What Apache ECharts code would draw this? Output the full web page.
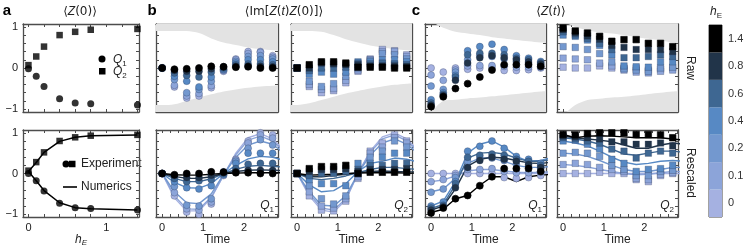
<!DOCTYPE html>
<html>
<head>
<meta charset="utf-8">
<script src="https://cdn.jsdelivr.net/npm/echarts@6/dist/echarts.min.js"></script>
<style>
  html, body { margin: 0; padding: 0; background: #fff; }
  #chart { width: 744px; height: 245px; }
</style>
</head>
<body>
<div id="chart"></div>
<script>
// h_E levels and their colours (light -> black)
const hE = ['0', '0.1', '0.2', '0.4', '0.6', '0.8', '1.4'];
const hEValues = [0, 0.1, 0.2, 0.4, 0.6, 0.8, 1.4];
const hEColors = ['#a5b1e1', '#8ca4d9', '#7398cf', '#5789c4', '#3e6792', '#213449', '#000000'];

// panel a: <Z(0)> vs h_E
const aQ1 = [-0.02, -0.2, -0.45, -0.75, -0.85, -0.87, -0.9];
const aQ2 = [0.07, 0.28, 0.52, 0.8, 0.88, 0.93, 0.95];
const aQ1Exp = [0.0, -0.18, -0.43, -0.73, -0.84, -0.86, -0.9];
const aQ2Exp = [0.07, 0.28, 0.52, 0.8, 0.89, 0.93, 0.95];
const aQ1Num = [0.05, -0.18, -0.42, -0.72, -0.84, -0.87, -0.9];
const aQ2Num = [0.05, 0.27, 0.52, 0.79, 0.89, 0.93, 0.95];

// time grids
const time = [0, 0.3, 0.6, 0.9, 1.2, 1.5, 1.8, 2.1, 2.4, 2.7];
const timeNum = [0, 0.3, 0.6, 0.9, 1.2, 1.5, 1.8, 2.1, 2.4, 2.7, 3.0];
const envTime = [-0.2, 0, 0.3, 0.6, 0.9, 1.2, 1.5, 1.8, 2.1, 2.4, 2.7, 3.0];

// rows follow hE order: 0, 0.1, 0.2, 0.4, 0.6, 0.8, 1.4
const bQ1Raw = [
  [0, -0.46, -0.73, -0.68, -0.48, -0.08, 0.22, 0.4, 0.4, 0.3],
  [0, -0.42, -0.68, -0.62, -0.43, -0.06, 0.2, 0.35, 0.38, 0.26],
  [0, -0.28, -0.6, -0.52, -0.32, -0.04, 0.16, 0.28, 0.3, 0.22],
  [0, -0.2, -0.32, -0.46, -0.22, -0.03, 0.12, 0.2, 0.2, 0.15],
  [0, -0.12, -0.18, -0.22, -0.1, 0, 0.08, 0.1, 0.1, 0.08],
  [0, -0.06, -0.08, -0.08, -0.02, 0.03, 0.04, 0.05, 0.04, 0.03],
  [0, -0.03, -0.02, 0, 0.04, 0.03, 0.02, 0.03, 0, 0]
];
const bQ1Resc = [
  [0, -0.55, -0.95, -1.0, -0.75, -0.05, 0.35, 0.8, 1.0, 0.95],
  [0, -0.47, -0.87, -0.9, -0.7, -0.02, 0.33, 0.75, 0.95, 0.87],
  [0, -0.32, -0.78, -0.8, -0.62, 0.02, 0.3, 0.62, 0.83, 0.7],
  [0, -0.2, -0.35, -0.38, -0.3, -0.03, 0.25, 0.5, 0.5, 0.5],
  [0, -0.12, -0.2, -0.18, -0.15, 0, 0.12, 0.23, 0.25, 0.25],
  [0, -0.05, -0.1, -0.1, -0.04, 0.04, 0.05, 0.08, 0.08, 0.08],
  [0, -0.03, 0, 0, 0.04, 0.03, 0.02, 0.02, 0, 0]
];
const bQ1Num = [
  [0, -0.6, -0.92, -0.92, -0.6, -0.05, 0.5, 0.88, 0.98, 0.85, 0.55],
  [0, -0.55, -0.87, -0.88, -0.58, -0.04, 0.46, 0.82, 0.92, 0.8, 0.52],
  [0, -0.45, -0.72, -0.74, -0.5, -0.02, 0.4, 0.7, 0.8, 0.72, 0.48],
  [0, -0.22, -0.35, -0.36, -0.25, 0, 0.2, 0.36, 0.42, 0.4, 0.32],
  [0, -0.12, -0.2, -0.2, -0.13, 0, 0.1, 0.18, 0.2, 0.18, 0.15],
  [0, -0.07, -0.12, -0.12, -0.08, 0, 0.05, 0.08, 0.09, 0.08, 0.07],
  [0, -0.03, -0.04, -0.04, -0.02, 0, 0.01, 0.02, 0.02, 0.02, 0.02]
];
const bQ2Raw = [
  [0, -0.45, -0.6, -0.55, -0.36, -0.08, 0.22, 0.45, 0.42, 0.32],
  [0, -0.4, -0.52, -0.5, -0.3, -0.05, 0.2, 0.4, 0.4, 0.28],
  [0, -0.32, -0.45, -0.38, -0.2, 0, 0.18, 0.35, 0.32, 0.22],
  [0, -0.15, -0.1, -0.15, -0.1, 0.15, 0.15, 0.2, 0.2, 0.15],
  [0, -0.06, 0, 0, 0.02, 0.12, 0.1, 0.12, 0.1, 0.08],
  [0, 0, 0.12, 0.1, 0.08, 0.08, 0.05, 0.05, 0.05, 0.04],
  [0, 0.08, 0.15, 0.15, 0.12, 0.02, 0.02, 0.02, 0, 0]
];
const bQ2Resc = [
  [0, -0.55, -0.9, -0.92, -0.68, -0.12, 0.55, 0.75, 0.95, 0.8],
  [0, -0.45, -0.8, -0.85, -0.62, -0.08, 0.5, 0.65, 0.88, 0.75],
  [0, -0.3, -0.62, -0.75, -0.55, 0, 0.4, 0.55, 0.8, 0.65],
  [0, -0.15, -0.25, -0.25, -0.3, 0.25, 0.25, 0.4, 0.5, 0.5],
  [0, -0.05, 0, 0, 0.05, 0.1, 0.2, 0.2, 0.25, 0.25],
  [0, 0.05, 0.1, 0.1, 0.12, 0.05, 0.1, 0.1, 0.1, 0.12],
  [0, 0.12, 0.17, 0.17, 0.2, 0, 0.03, 0.03, 0.03, 0.03]
];
const bQ2Num = [
  [0, -0.55, -0.9, -0.95, -0.65, 0, 0.55, 0.9, 1.0, 0.85, 0.55],
  [0, -0.5, -0.85, -0.9, -0.62, 0, 0.52, 0.85, 0.95, 0.8, 0.52],
  [0, -0.45, -0.78, -0.8, -0.55, 0, 0.45, 0.75, 0.85, 0.72, 0.48],
  [0, -0.28, -0.45, -0.42, -0.25, 0.05, 0.25, 0.3, 0.38, 0.35, 0.28],
  [0, -0.12, -0.15, -0.12, -0.06, 0.02, 0.1, 0.15, 0.15, 0.12, 0.1],
  [0, -0.08, -0.08, -0.05, -0.02, 0.02, 0.05, 0.06, 0.05, 0.04, 0.04],
  [0, -0.04, -0.03, -0.02, 0, 0.01, 0.02, 0.02, 0.02, 0.01, 0.01]
];
const cQ1Raw = [
  [0, -0.1, 0, -0.03, 0, 0, -0.06, -0.06, -0.04, 0],
  [-0.17, -0.3, -0.05, 0.05, 0.06, 0.06, 0.04, 0.02, 0.02, 0.02],
  [-0.44, -0.52, -0.1, 0.2, 0.3, 0.28, 0.22, 0.15, 0.12, 0.08],
  [-0.77, -0.6, -0.18, 0.42, 0.52, 0.58, 0.45, 0.3, 0.24, 0.16],
  [-0.85, -0.64, -0.22, 0.32, 0.36, 0.36, 0.32, 0.24, 0.2, 0.13],
  [-0.9, -0.67, -0.3, 0.12, 0.25, 0.3, 0.25, 0.2, 0.15, 0.1],
  [-0.94, -0.7, -0.5, -0.38, -0.22, -0.05, 0.08, 0.08, 0.08, 0.04]
];
const cQ1Resc = [
  [0, 0, 0, 0, 0, 0, -0.1, -0.12, -0.1, -0.05],
  [-0.2, -0.15, -0.05, 0.1, 0.1, 0.12, 0.05, 0.02, 0.02, 0.03],
  [-0.46, -0.38, -0.1, 0.3, 0.38, 0.38, 0.32, 0.22, 0.18, 0.12],
  [-0.8, -0.7, -0.2, 0.55, 0.67, 0.8, 0.62, 0.42, 0.35, 0.25],
  [-0.85, -0.78, -0.25, 0.4, 0.45, 0.48, 0.45, 0.35, 0.3, 0.2],
  [-0.9, -0.82, -0.35, 0.15, 0.32, 0.4, 0.35, 0.3, 0.22, 0.15],
  [-0.97, -0.85, -0.62, -0.54, -0.3, -0.08, 0.12, 0.12, 0.12, 0.05]
];
const cQ1Num = [
  [0, 0, 0, 0, 0, 0, 0, 0, 0, 0, 0],
  [-0.2, -0.16, -0.06, 0.06, 0.1, 0.1, 0.06, 0.03, 0.02, 0.03, 0.04],
  [-0.45, -0.38, -0.12, 0.25, 0.38, 0.38, 0.3, 0.2, 0.15, 0.15, 0.18],
  [-0.8, -0.68, -0.2, 0.5, 0.72, 0.8, 0.65, 0.42, 0.3, 0.32, 0.4],
  [-0.86, -0.76, -0.28, 0.38, 0.5, 0.52, 0.48, 0.38, 0.3, 0.3, 0.35],
  [-0.9, -0.8, -0.38, 0.18, 0.35, 0.4, 0.38, 0.32, 0.26, 0.25, 0.28],
  [-0.96, -0.88, -0.62, -0.54, -0.29, -0.08, -0.08, -0.2, -0.08, -0.04, -0.02]
];
const cQ2Raw = [
  [0.02, 0, 0, 0.05, 0, 0, 0, -0.05, -0.03, 0],
  [0.24, 0.22, 0.2, 0.12, 0.05, -0.05, -0.1, -0.12, -0.08, -0.05],
  [0.52, 0.5, 0.45, 0.35, 0.15, -0.02, -0.05, -0.08, 0, 0.02],
  [0.8, 0.77, 0.68, 0.55, 0.32, 0.05, 0.03, 0.02, 0.15, 0.15],
  [0.88, 0.8, 0.72, 0.6, 0.45, 0.25, 0.25, 0.28, 0.32, 0.28],
  [0.93, 0.85, 0.78, 0.7, 0.55, 0.5, 0.45, 0.45, 0.45, 0.4],
  [0.97, 0.9, 0.85, 0.77, 0.65, 0.69, 0.69, 0.6, 0.6, 0.52]
];
const cQ2Resc = [
  [0, 0, 0, 0.03, 0, 0, -0.15, -0.2, -0.05, 0],
  [0.22, 0.25, 0.22, 0.15, 0.1, 0.05, -0.12, -0.15, -0.02, 0.02],
  [0.5, 0.52, 0.5, 0.42, 0.2, 0.1, -0.05, -0.05, 0.05, 0.08],
  [0.8, 0.82, 0.72, 0.6, 0.35, 0.25, 0.05, 0.1, 0.12, 0.2],
  [0.88, 0.85, 0.8, 0.75, 0.6, 0.55, 0.38, 0.5, 0.55, 0.5],
  [0.92, 0.9, 0.88, 0.85, 0.78, 0.78, 0.72, 0.72, 0.75, 0.68],
  [0.96, 0.95, 0.98, 1.0, 1.0, 1.0, 0.96, 0.96, 0.95, 0.88]
];
const cQ2Num = [
  [0, 0, 0, 0, 0, 0, 0, 0, 0, 0, 0],
  [0.22, 0.2, 0.16, 0.1, 0.05, 0, -0.03, -0.02, 0.02, 0.05, 0.05],
  [0.5, 0.48, 0.42, 0.32, 0.2, 0.1, 0.05, 0.05, 0.1, 0.15, 0.15],
  [0.8, 0.75, 0.68, 0.55, 0.4, 0.28, 0.22, 0.25, 0.3, 0.32, 0.3],
  [0.88, 0.85, 0.8, 0.72, 0.6, 0.48, 0.45, 0.5, 0.55, 0.55, 0.52],
  [0.92, 0.88, 0.85, 0.82, 0.78, 0.7, 0.62, 0.62, 0.7, 0.75, 0.72],
  [0.96, 0.88, 0.92, 0.93, 0.92, 0.9, 0.88, 0.88, 0.88, 0.85, 0.82]
];

// grey decay envelopes of the raw panels (on envTime)
const bQ1EnvHi = [0.9, 0.9, 0.9, 0.9, 0.85, 0.72, 0.62, 0.56, 0.5, 0.46, 0.43, 0.42];
const bQ1EnvLo = [-0.9, -0.9, -0.88, -0.8, -0.72, -0.64, -0.57, -0.52, -0.48, -0.45, -0.43, -0.42];
const bQ2EnvHi = [0.9, 0.9, 0.9, 0.88, 0.8, 0.7, 0.62, 0.55, 0.5, 0.46, 0.43, 0.42];
const bQ2EnvLo = [-0.9, -0.9, -0.86, -0.78, -0.7, -0.62, -0.56, -0.5, -0.45, -0.41, -0.38, -0.37];
const cQ1EnvHi = [1.1, 1.1, 0.98, 0.88, 0.84, 0.8, 0.75, 0.72, 0.68, 0.65, 0.62, 0.6];
const cQ1EnvLo = [-1.1, -1.05, -0.8, -0.77, -0.74, -0.72, -0.69, -0.66, -0.63, -0.6, -0.57, -0.56];
const cQ2EnvHi = [1.1, 1.1, 1.0, 0.92, 0.87, 0.84, 0.8, 0.75, 0.71, 0.67, 0.62, 0.6];
const cQ2EnvLo = [-1.1, -1.1, -0.9, -0.78, -0.75, -0.72, -0.7, -0.67, -0.63, -0.6, -0.57, -0.56];

// ---------------------------------------------------------------
const FONT = 'Liberation Sans, Arial, Helvetica, sans-serif';
const FRAME = '#4d4d4d';
const yTicks = [-1, -0.8, -0.6, -0.4, -0.2, 0, 0.2, 0.4, 0.6, 0.8, 1];
const tTicks = [0, 0.2, 0.4, 0.6, 0.8, 1, 1.2, 1.4, 1.6, 1.8, 2, 2.2, 2.4, 2.6, 2.8];
const hTicks = [0, 0.2, 0.4, 0.6, 0.8, 1, 1.2, 1.4];
const Y_RANGE = [-1.07, 1.07];
const T_RANGE = [-0.15, 2.83];
const H_RANGE = [-0.07, 1.42];

const layout = {
  aTop:   { left: 23,  top: 24,  width: 116, height: 88 },
  aBot:   { left: 23,  top: 130, width: 116, height: 87 },
  bQ1Top: { left: 156, top: 24,  width: 122, height: 88 },
  bQ2Top: { left: 291, top: 24,  width: 121, height: 88 },
  cQ1Top: { left: 425, top: 24,  width: 121, height: 88 },
  cQ2Top: { left: 557, top: 24,  width: 121, height: 88 },
  bQ1Bot: { left: 156, top: 130, width: 122, height: 87 },
  bQ2Bot: { left: 291, top: 130, width: 121, height: 87 },
  cQ1Bot: { left: 425, top: 130, width: 121, height: 87 },
  cQ2Bot: { left: 557, top: 130, width: 121, height: 87 },
  cbar:   { left: 709, top: 25,  width: 13,  height: 192 }
};

const grids = [], xAxes = [], yAxes = [], series = [];
const minus = v => (v < 0 ? '\u2212' + Math.abs(v) : String(v));

function axisPair(list, gi, base, range, ticks, labels, name) {
  const line = { show: true, onZero: false, lineStyle: { color: FRAME, width: 1.3 } };
  const tick = { show: true, inside: true, length: 3, customValues: ticks, lineStyle: { color: FRAME, width: 1 } };
  const main = {
    gridIndex: gi, type: 'value', min: range[0], max: range[1], position: base,
    axisLine: line, axisTick: tick, splitLine: { show: false },
    axisLabel: labels
      ? { show: true, customValues: labels, formatter: minus, fontSize: 11, color: '#222', fontFamily: FONT, margin: 5 }
      : { show: false }
  };
  if (name) Object.assign(main, name);
  const mirror = {
    gridIndex: gi, type: 'value', min: range[0], max: range[1],
    position: base === 'bottom' ? 'top' : 'right',
    axisLine: line, axisTick: tick, splitLine: { show: false }, axisLabel: { show: false }
  };
  list.push(main, mirror);
}

function panel(key, xRange, xTicks, xLabels, yLabels, xName) {
  const gi = grids.length;
  grids.push(Object.assign({ containLabel: false, outerBoundsMode: 'none' }, layout[key]));
  axisPair(xAxes, gi, 'bottom', xRange, xTicks, xLabels, xName);
  axisPair(yAxes, gi, 'left', Y_RANGE, yTicks, yLabels ? [-1, 0, 1] : null, null);
  return 2 * gi;
}

const timeName = {
  name: 'Time', nameLocation: 'middle', nameGap: 17,
  nameTextStyle: { fontSize: 12, color: '#222', fontFamily: FONT }
};
const hName = {
  name: '{i|h}{s|E}', nameLocation: 'middle', nameGap: 15,
  nameTextStyle: {
    rich: {
      i: { fontSize: 12, fontStyle: 'italic', color: '#222', fontFamily: FONT, lineHeight: 14 },
      s: { fontSize: 8, fontStyle: 'italic', color: '#222', fontFamily: FONT, lineHeight: 8, verticalAlign: 'bottom' }
    }
  }
};

function envelope(ax, hi, lo) {
  [[hi, 'end'], [lo, 'start']].forEach(([arr, origin]) => series.push({
    type: 'line', xAxisIndex: ax, yAxisIndex: ax, silent: true, z: 1,
    data: envTime.map((t, j) => [t, arr[j]]),
    smooth: 0.3, symbol: 'none', lineStyle: { width: 0 },
    areaStyle: { color: '#e3e3e3', opacity: 1, origin }
  }));
}

function dots(ax, rows, symbol) {
  rows.forEach((row, k) => series.push({
    type: 'scatter', xAxisIndex: ax, yAxisIndex: ax, z: 3, silent: true,
    symbol, symbolSize: symbol === 'circle' ? 7 : 6.5,
    data: time.map((t, j) => [t, row[j]]),
    itemStyle: { color: hEColors[k], borderColor: k === 6 ? '#000' : 'rgba(35,45,75,0.45)', borderWidth: 0.6, opacity: 1 }
  }));
}

function curves(ax, rows) {
  rows.forEach((row, k) => series.push({
    type: 'line', xAxisIndex: ax, yAxisIndex: ax, z: 2, silent: true,
    data: timeNum.map((t, j) => [t, row[j]]),
    symbol: 'none', lineStyle: { color: hEColors[k], width: 1.4 }
  }));
}

// panel a
const aTop = panel('aTop', H_RANGE, hTicks, null, true);
const aBot = panel('aBot', H_RANGE, hTicks, [0, 1], true, hName);
[[aQ1, 'circle', 7], [aQ2, 'rect', 6.5]].forEach(([arr, sym, size]) => series.push({
  type: 'scatter', xAxisIndex: aTop, yAxisIndex: aTop, symbol: sym, symbolSize: size, z: 3, silent: true,
  data: hEValues.map((h, j) => [h, arr[j]]), itemStyle: { color: '#000' }
}));
[aQ1Num, aQ2Num].forEach(arr => series.push({
  type: 'line', xAxisIndex: aBot, yAxisIndex: aBot, symbol: 'none', z: 2, silent: true,
  data: hEValues.map((h, j) => [h, arr[j]]), lineStyle: { color: '#000', width: 1.5 }
}));
[[aQ1Exp, 'circle', 7], [aQ2Exp, 'rect', 6.5]].forEach(([arr, sym, size]) => series.push({
  type: 'scatter', xAxisIndex: aBot, yAxisIndex: aBot, symbol: sym, symbolSize: size, z: 3, silent: true,
  data: hEValues.map((h, j) => [h, arr[j]]), itemStyle: { color: '#000' }
}));

// panels b, c raw (top row)
const rawPanels = [
  ['bQ1Top', bQ1Raw, 'circle', bQ1EnvHi, bQ1EnvLo],
  ['bQ2Top', bQ2Raw, 'rect', bQ2EnvHi, bQ2EnvLo],
  ['cQ1Top', cQ1Raw, 'circle', cQ1EnvHi, cQ1EnvLo],
  ['cQ2Top', cQ2Raw, 'rect', cQ2EnvHi, cQ2EnvLo]
];
rawPanels.forEach(([key, rows, sym, hi, lo]) => {
  const ax = panel(key, T_RANGE, tTicks, null, false);
  envelope(ax, hi, lo);
  dots(ax, rows, sym);
});

// panels b, c rescaled (bottom row)
const rescPanels = [
  ['bQ1Bot', bQ1Resc, bQ1Num, 'circle'],
  ['bQ2Bot', bQ2Resc, bQ2Num, 'rect'],
  ['cQ1Bot', cQ1Resc, cQ1Num, 'circle'],
  ['cQ2Bot', cQ2Resc, cQ2Num, 'rect']
];
rescPanels.forEach(([key, rows, num, sym]) => {
  const ax = panel(key, T_RANGE, tTicks, [0, 1, 2], false, timeName);
  curves(ax, num);
  dots(ax, rows, sym);
});

// colour bar
const cbi = grids.length;
grids.push(Object.assign({ containLabel: false, outerBoundsMode: 'none', show: true, borderColor: '#444', borderWidth: 1 }, layout.cbar));
xAxes.push({ gridIndex: cbi, type: 'value', min: 0, max: 1, show: false });
yAxes.push({
  gridIndex: cbi, type: 'category', data: hE, position: 'right',
  axisLine: { show: false }, axisTick: { show: false }, splitLine: { show: false },
  axisLabel: { fontSize: 11, color: '#333', fontFamily: FONT, margin: 6 }
});
series.push({
  type: 'bar', xAxisIndex: xAxes.length - 1, yAxisIndex: yAxes.length - 1, silent: true,
  barWidth: '100%', barCategoryGap: '0%',
  data: hE.map((h, k) => ({ value: 1, itemStyle: { color: hEColors[k] } }))
});

// texts
const sub = { fontSize: 8, fontFamily: FONT, color: '#222', lineHeight: 8, verticalAlign: 'bottom' };
const it = { fontSize: 12, fontStyle: 'italic', fontFamily: FONT, color: '#222', lineHeight: 16 };
const rm = { fontSize: 12, fontFamily: 'DejaVu Sans, ' + FONT, color: '#222', lineHeight: 16 };
function txt(x, y, text, extra) {
  return Object.assign({ type: 'text', x, y, silent: true, style: Object.assign({
    text, rich: { i: it, s: sub, r: rm }, textAlign: 'center', textVerticalAlign: 'middle', fill: '#222',
    fontFamily: FONT, fontSize: 12
  }, extra || {}) });
}
const graphic = [
  txt(7, 11, 'a', { fontSize: 15, fontWeight: 'bold', fill: '#000' }),
  txt(152, 11, 'b', { fontSize: 15, fontWeight: 'bold', fill: '#000' }),
  txt(416, 11, 'c', { fontSize: 15, fontWeight: 'bold', fill: '#000' }),
  txt(80, 12, '{r|\u27E8}{i|Z}{r|(0)\u27E9}'),
  txt(284, 12, '{r|\u27E8Im[}{i|Z}{r|(}{i|t}{r|)}{i|Z}{r|(0)]\u27E9}'),
  txt(551, 12, '{r|\u27E8}{i|Z}{r|(}{i|t}{r|)\u27E9}'),
  txt(716, 12, '{i|h}{s|E}'),
  // panel a legends
  { type: 'circle', shape: { cx: 102, cy: 59, r: 3.5 }, style: { fill: '#000' }, silent: true },
  { type: 'rect', shape: { x: 99, y: 68, width: 6.5, height: 6.5 }, style: { fill: '#000' }, silent: true },
  txt(113, 60, '{i|Q}{s|1}', { textAlign: 'left' }),
  txt(113, 72, '{i|Q}{s|2}', { textAlign: 'left' }),
  { type: 'circle', shape: { cx: 66, cy: 164, r: 3.5 }, style: { fill: '#000' }, silent: true },
  { type: 'rect', shape: { x: 69, y: 160.75, width: 6.5, height: 6.5 }, style: { fill: '#000' }, silent: true },
  txt(81, 164, 'Experiment', { textAlign: 'left' }),
  { type: 'line', shape: { x1: 63, y1: 187, x2: 77, y2: 187 }, style: { stroke: '#000', lineWidth: 1.6 }, silent: true },
  txt(81, 187, 'Numerics', { textAlign: 'left' }),
  // row labels
  Object.assign(txt(690, 68, 'Raw'), { rotation: -Math.PI / 2 }),
  Object.assign(txt(690, 173, 'Rescaled'), { rotation: -Math.PI / 2 })
];
['bQ1Top', 'bQ2Top', 'cQ1Top', 'cQ2Top', 'bQ1Bot', 'bQ2Bot', 'cQ1Bot', 'cQ2Bot'].forEach((key, n) => {
  const g = layout[key];
  graphic.push(txt(g.left + g.width - 4, g.top + g.height - 11, n % 2 === 0 ? '{i|Q}{s|1}' : '{i|Q}{s|2}', { textAlign: 'right' }));
});

const chart = echarts.init(document.getElementById('chart'));
chart.setOption({
  animation: false,
  backgroundColor: '#fff',
  grid: grids,
  xAxis: xAxes,
  yAxis: yAxes,
  series,
  graphic
});
</script>
</body>
</html>
